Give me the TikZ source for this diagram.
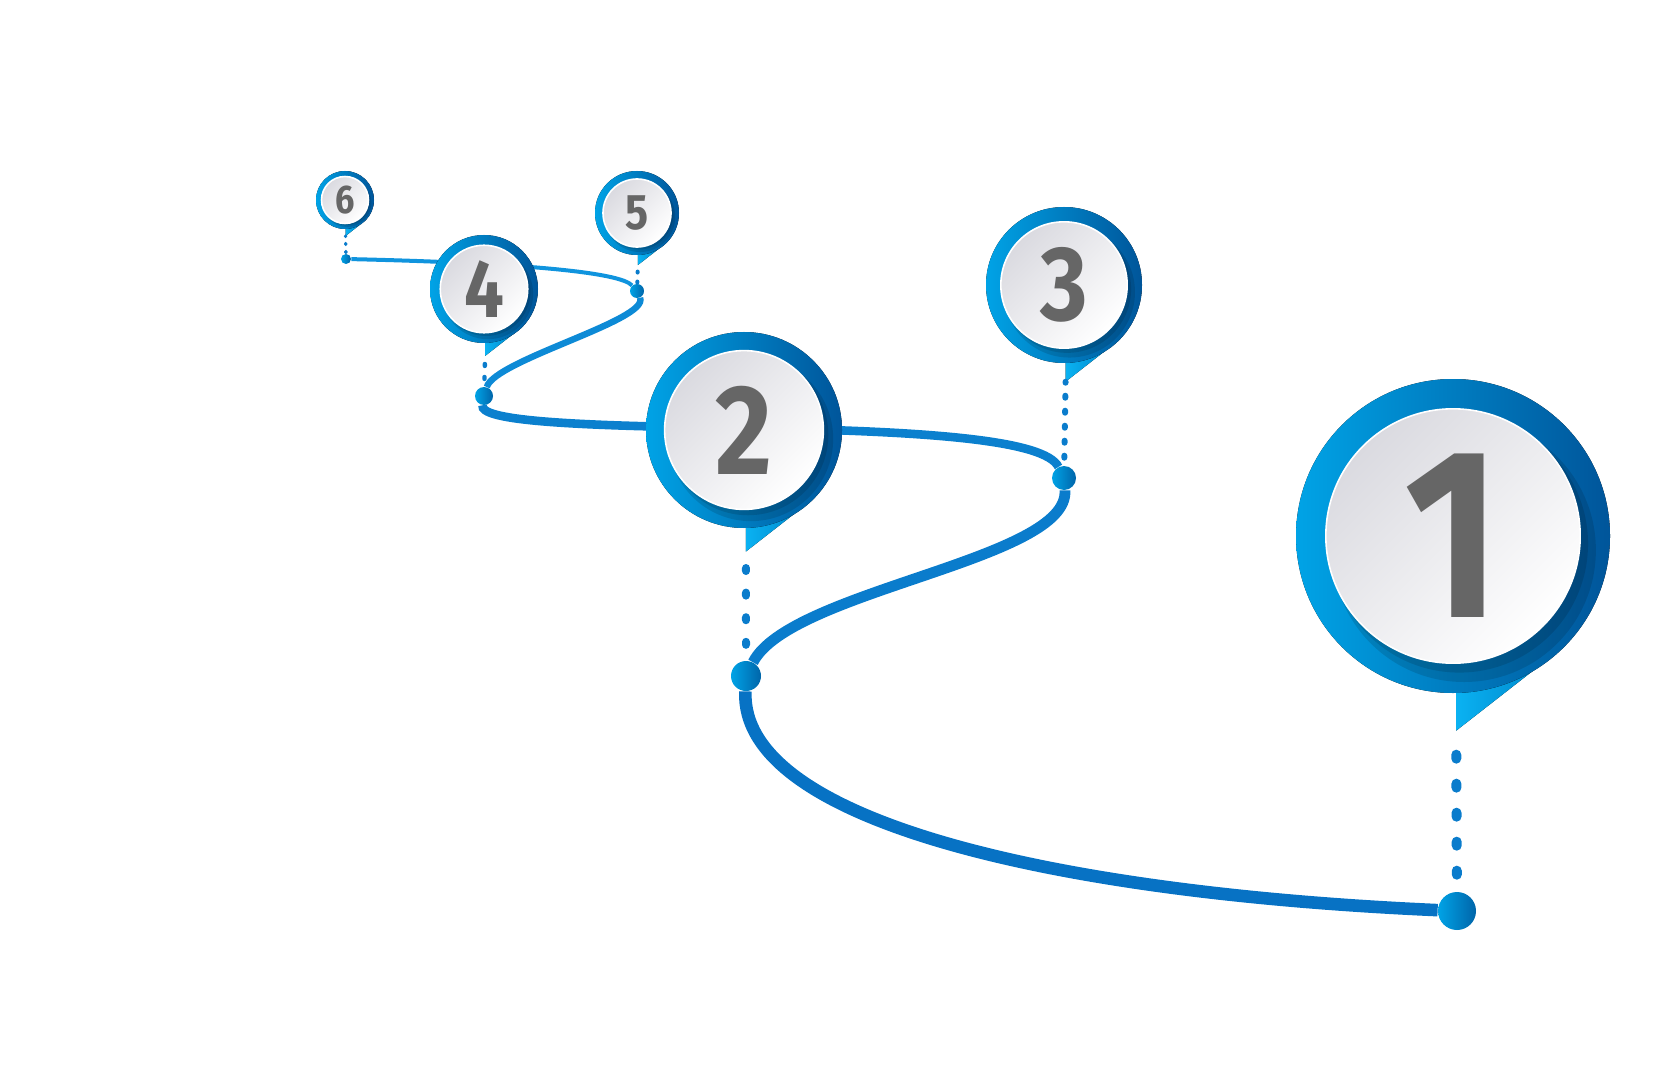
\documentclass[tikz,border=0pt]{standalone}
\usepackage{fontspec}
\newfontfamily\digitfont[FakeStretch=0.86]{Fira Sans}
\definecolor{ringlight}{HTML}{00A3E6}
\definecolor{ringdark}{HTML}{00559A}
\definecolor{tailblue}{HTML}{0AB2F2}
\definecolor{roadblue}{HTML}{0772C4}
\definecolor{roadlight}{HTML}{1094DE}
\definecolor{discgray}{HTML}{DADAE0}
\definecolor{digitgray}{HTML}{666666}
\usetikzlibrary{positioning}

\begin{document}
\begin{tikzpicture}[
 x=0.5pt,y=-0.5pt,
 junction/.style={circle,inner sep=0pt,left color=ringlight,right color=ringdark!80!ringlight},
 road/.style={draw=roadblue},
 dotline/.style={draw=roadblue!70!roadlight,line cap=round},
 ring/.style={left color=ringlight,right color=ringdark},
 tailpart/.style={left color=tailblue,right color=ringlight!70!ringdark},
 disc/.style={top color=discgray,bottom color=white,shading angle=45,draw=white,line width=0.8pt},
 digit/.style={text=digitgray,inner sep=0pt}]
\useasboundingbox (0,0) rectangle (1680,1080);
% junctions on the road
\foreach \n/\x/\y/\d in {1/1457/911/19,2/746/676/15,3/1064/478/12,4/484/396/9,5/637/291/7,6/346/259/5}
  \node[junction,minimum size=\d pt] (dot\n) at (\x,\y) {};
\coordinate (via2) at (744,428);
% the winding road, thinner as it goes back
\draw[road,line width=6.3pt] (dot1) .. controls (1050,893) and (740,820) .. (dot2);
\draw[road,draw=roadblue!70!roadlight,line width=5.4pt] (dot2) .. controls (790,590) and (1070,560) .. (dot3);
\draw[road,draw=roadblue!60!roadlight,line width=4.3pt] (dot3) .. controls (1045,440) and (930,431) .. (via2)
  .. controls (560,426) and (480,420) .. (dot4);
\draw[road,draw=roadblue!30!roadlight,line width=3.2pt] (dot4) .. controls (495,360) and (650,320) .. (dot5);
\draw[road,draw=roadlight,line width=2pt] (dot5) .. controls (620,272) and (520,263) .. (dot6);
% pins
\foreach \n/\x/\y/\r/\s in {1/1453/536/157/121,2/744/430/98/64,3/1064/285/78/53,4/484/289/54/41,5/637/213/42/25,6/345/200/29/20}{
  \begin{scope}[shift={(\x,\y)},scale=\r/100]
    \fill[tailpart] (2,60) -- (2,124) coordinate (tip\n) -- (52,85) -- cycle;
    \fill[ring] (0,0) circle (100);
    \fill[black,opacity=0.12] (7,9) circle (84);
    \fill[black,opacity=0.12] (4,5) circle (82);
    \path[disc] (0,0) circle (81);
    \node[digit,font=\digitfont\bfseries\fontsize{\s}{\s}\selectfont] (num\n) at (0,0) {\n};
  \end{scope}}
% dotted drops from pin to road
\foreach \n/\w/\on/\off/\ph in {1/5/2/12.5/2.5,2/4/1.5/10.8/4.05,3/3/1/6.5/0.5,4/2.2/1/5.5/2.5,5/2/0.5/4.5/1.75,6/1.7/0.5/3.5/0.25}
  \draw[dotline,line width=\w pt,dash pattern=on \on pt off \off pt,dash phase=\ph pt] (tip\n) -- (dot\n);
\end{tikzpicture}
\end{document}
